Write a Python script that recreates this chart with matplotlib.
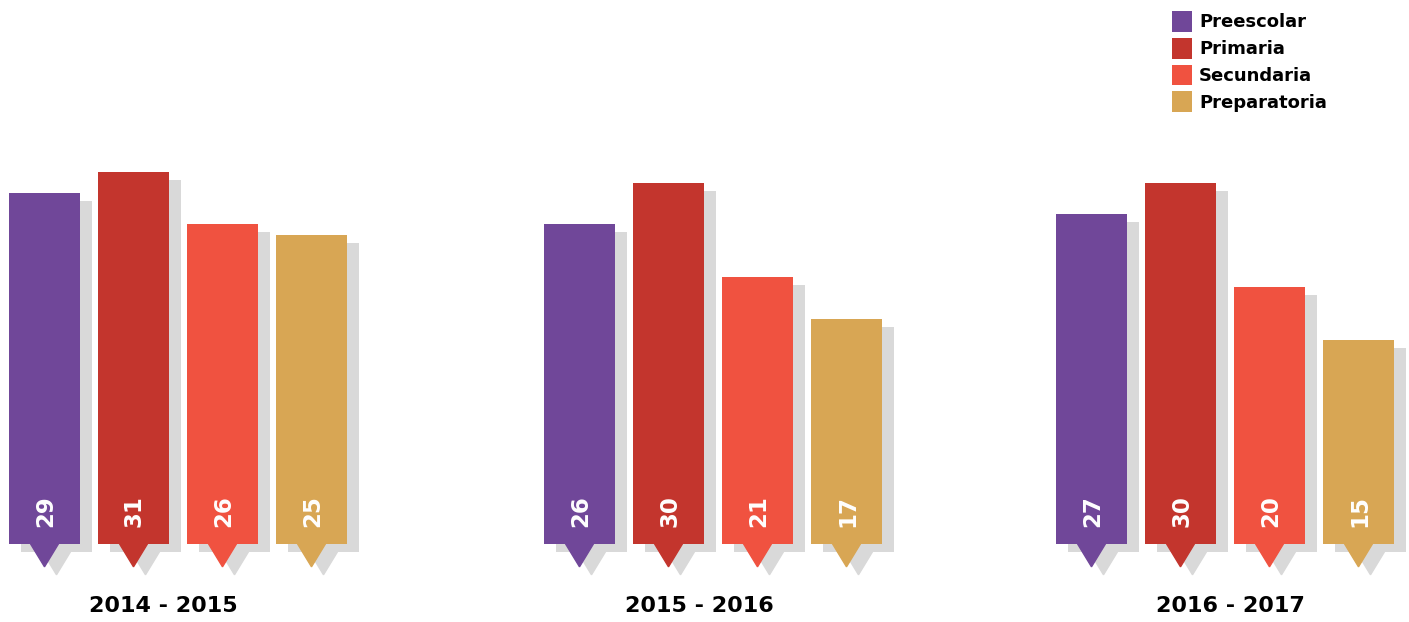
import matplotlib.pyplot as plt
from matplotlib.patches import Polygon

# data
years = ['2014 - 2015', '2015 - 2016', '2016 - 2017']
levels = ['Preescolar', 'Primaria', 'Secundaria', 'Preparatoria']
preescolar = [29, 26, 27]
primaria = [31, 30, 30]
secundaria = [26, 21, 20]
preparatoria = [25, 17, 15]

colors = ['#704799', '#C3352D', '#F05240', '#D8A654']
shadow = '#D9D9D9'

# layout (x in pixels, y in value units)
group_x = [9, 544, 1056]
year_x = [163, 699, 1230]
step = 89
width = 71
base = -4.5
sdx, sdy = 12, 0.76
tri_w, tri_h = 28, 2.2

fig = plt.figure(figsize=(14.09, 6.22), dpi=100)
ax = fig.add_axes([0, 0, 1, 1])
ax.set_xlim(0, 1409)
ax.set_ylim(-11.97, 47.44)
ax.axis('off')

series = [preescolar, primaria, secundaria, preparatoria]
for j, (vals, col, name) in enumerate(zip(series, colors, levels)):
    xs = [g + j * step for g in group_x]
    heights = [v - base for v in vals]
    # shadows
    ax.bar([x + sdx for x in xs], heights, width=width, bottom=base - sdy,
           align='edge', color=shadow, zorder=1)
    for x in xs:
        cx = x + width / 2 + sdx
        ax.add_patch(Polygon([(cx - tri_w / 2, base - sdy), (cx + tri_w / 2, base - sdy),
                              (cx, base - sdy - tri_h)], closed=True,
                             color=shadow, zorder=1))
    ax.bar(xs, heights, width=width, bottom=base, align='edge',
           color=col, zorder=2, label=name)
    # pointer triangles + value labels
    for x, v in zip(xs, vals):
        cx = x + width / 2
        ax.add_patch(Polygon([(cx - tri_w / 2, base), (cx + tri_w / 2, base),
                              (cx, base - tri_h)], closed=True, color=col, zorder=2))
        ax.text(cx + 1, base + 1.6, str(v), rotation=90, ha='center', va='bottom',
                color='white', fontsize=16.5, fontweight='bold', zorder=3)

for x, yr in zip(year_x, years):
    ax.text(x, -10.4, yr, ha='center', va='center', fontsize=16,
            fontweight='bold', color='black')

ax.legend(loc='upper left', bbox_to_anchor=(1172 / 1409, 1 - 11 / 622),
          bbox_transform=fig.transFigure, frameon=False,
          prop={'weight': 'bold', 'size': 13}, handlelength=1.1, handleheight=1.4,
          handletextpad=0.4, labelspacing=0.33, borderpad=0, borderaxespad=0)

plt.savefig('out.png', dpi=100)
